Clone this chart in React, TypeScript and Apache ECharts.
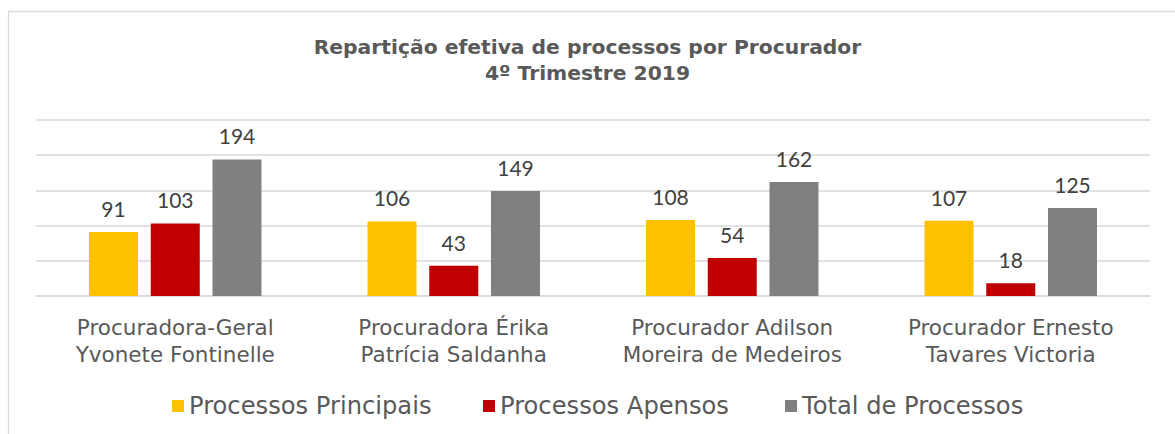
import React, { useEffect, useRef } from "react";
import * as echarts from "echarts";

const titleLines = ["Repartição efetiva de processos por Procurador", "4º Trimestre 2019"];
const categories = [
  "Procuradora-Geral\nYvonete Fontinelle",
  "Procuradora Érika\nPatrícia Saldanha",
  "Procurador Adilson\nMoreira de Medeiros",
  "Procurador Ernesto\nTavares Victoria",
];
const seriesNames = ["Processos Principais", "Processos Apensos", "Total de Processos"];
const principais = [91, 106, 108, 107];
const apensos = [103, 43, 54, 18];
const totais = [194, 149, 162, 125];
const colors = ["#FFC000", "#C00000", "#808080"];
const legendLefts = [167, 478, 780];

export default function App() {
  const ref = useRef<HTMLDivElement>(null);
  useEffect(() => {
    document.body.style.margin = "0";
    const chart = echarts.init(ref.current!, null, { renderer: "svg" });
    const values = [principais, apensos, totais];
    chart.setOption({
      animation: false,
      backgroundColor: "#ffffff",
      graphic: [
        {
          type: "rect",
          shape: { x: 8.5, y: 11.5, width: 1300, height: 600 },
          style: { fill: "none", stroke: "#d9d9d9", lineWidth: 1.3 },
          silent: true,
        },
      ],
      title: {
        text: titleLines.join("\n"),
        left: "center",
        top: 29,
        textStyle: {
          fontFamily: "DejaVu Sans",
          fontWeight: "bold",
          fontSize: 20.3,
          lineHeight: 26,
          color: "#595959",
        },
      },
      legend: seriesNames.map((n, i) => ({
        data: [n],
        left: legendLefts[i],
        top: 389,
        itemWidth: 12,
        itemHeight: 12,
        itemGap: 8,
        icon: "rect",
        textStyle: { fontFamily: "DejaVu Sans", fontSize: 24.2, color: "#595959" },
      })),
      grid: { left: 36, right: 25, top: 120, bottom: 138 },
      xAxis: {
        type: "category",
        data: categories,
        axisLine: { show: true, lineStyle: { color: "#d9d9d9", width: 1.5 } },
        axisTick: { show: false },
        axisLabel: {
          fontFamily: "DejaVu Sans",
          fontSize: 21.5,
          lineHeight: 27,
          color: "#595959",
          margin: 18,
          interval: 0,
        },
      },
      yAxis: {
        type: "value",
        min: 0,
        max: 250,
        interval: 50,
        axisLabel: { show: false },
        axisLine: { show: false },
        axisTick: { show: false },
        splitLine: { lineStyle: { color: "#d9d9d9", width: 1.5 } },
      },
      series: seriesNames.map((n, i) => ({
        name: n,
        type: "bar",
        data: values[i],
        barWidth: 49,
        barGap: "26%",
        itemStyle: { color: colors[i] },
        label: {
          show: true,
          position: "top",
          distance: 13,
          fontFamily: "Lato",
          fontSize: 21,
          color: "#404040",
        },
      })),
    });
    return () => chart.dispose();
  }, []);
  return <div ref={ref} style={{ width: 1175, height: 434 }} />;
}
